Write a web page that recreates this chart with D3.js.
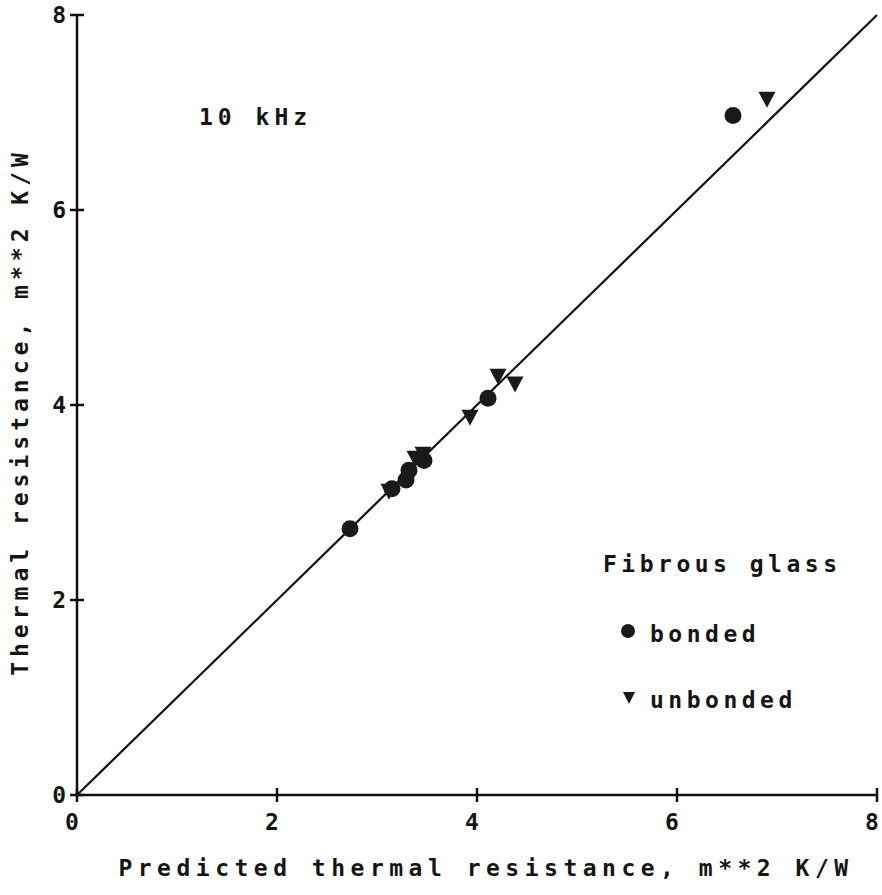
<!DOCTYPE html>
<html>
<head>
<meta charset="utf-8">
<script src="https://cdn.jsdelivr.net/npm/d3@7"></script>
<style>
  body { margin: 0; background: #fff; }
  text { font-family: "DejaVu Sans Mono", monospace; fill: #151515; font-weight: bold; }
</style>
</head>
<body>
<div id="chart"></div>
<script>
var width = 882, height = 895;
var margin = { top: 15, right: 5, bottom: 100, left: 77 };

// measured vs predicted, m**2 K/W
var bondedPred = [2.73, 3.15, 3.29, 3.32, 3.47, 4.11, 6.56];
var bondedMeas = [2.73, 3.14, 3.23, 3.33, 3.43, 4.07, 6.97];
var unbondedPred = [3.12, 3.38, 3.46, 3.93, 4.21, 4.38, 6.90];
var unbondedMeas = [3.12, 3.46, 3.50, 3.88, 4.30, 4.22, 7.14];
var tickValues = [0, 2, 4, 6, 8];

var svg = d3.select("#chart")
    .append("svg")
    .attr("width", width)
    .attr("height", height);

var g = svg.append("g")
    .attr("transform", "translate(" + margin.left + "," + margin.top + ")");

var plotW = 800, plotH = 780;

var xScale = d3.scaleLinear().domain([0, 8]).range([0, plotW]);
var yScale = d3.scaleLinear().domain([0, 8]).range([plotH, 0]);

// axes drawn by hand, plotter style: ticks cross the axis line
g.append("line")
    .attr("x1", 0).attr("x2", plotW)
    .attr("y1", yScale(0)).attr("y2", yScale(0))
    .attr("stroke", "#111").attr("stroke-width", 2.5);
g.append("line")
    .attr("x1", 0).attr("x2", 0)
    .attr("y1", yScale(0)).attr("y2", yScale(8))
    .attr("stroke", "#111").attr("stroke-width", 2.5);

g.selectAll(".xtick")
    .data(tickValues)
    .enter().append("line")
    .attr("class", "xtick")
    .attr("x1", function(d){ return xScale(d); })
    .attr("x2", function(d){ return xScale(d); })
    .attr("y1", plotH - 7).attr("y2", plotH + 7)
    .attr("stroke", "#111").attr("stroke-width", 2.5);

g.selectAll(".ytick")
    .data(tickValues)
    .enter().append("line")
    .attr("class", "ytick")
    .attr("x1", -7).attr("x2", 7)
    .attr("y1", function(d){ return yScale(d); })
    .attr("y2", function(d){ return yScale(d); })
    .attr("stroke", "#111").attr("stroke-width", 2.5);

g.selectAll(".xlab")
    .data(tickValues)
    .enter().append("text")
    .attr("class", "xlab")
    .attr("x", function(d){ return xScale(d) - 5; })
    .attr("y", plotH + 35)
    .attr("text-anchor", "middle")
    .style("font-size", "23px")
    .text(function(d){ return d; });

g.selectAll(".ylab")
    .data(tickValues)
    .enter().append("text")
    .attr("class", "ylab")
    .attr("x", -11)
    .attr("y", function(d){ return yScale(d) + 8; })
    .attr("text-anchor", "end")
    .style("font-size", "23px")
    .text(function(d){ return d; });

// 1:1 line
g.append("line")
    .attr("x1", xScale(0)).attr("y1", yScale(0))
    .attr("x2", xScale(8)).attr("y2", yScale(8))
    .attr("stroke", "#111").attr("stroke-width", 2.2);

// points
var bonded = bondedPred.map(function(d, i){ return [d, bondedMeas[i]]; });
var unbonded = unbondedPred.map(function(d, i){ return [d, unbondedMeas[i]]; });

var tri = "M-8.5,-7L8.5,-7L0,9Z";

g.selectAll(".bonded")
    .data(bonded)
    .enter().append("circle")
    .attr("class", "bonded")
    .attr("cx", function(d){ return xScale(d[0]); })
    .attr("cy", function(d){ return yScale(d[1]); })
    .attr("r", 8.5)
    .style("fill", "#1a1a1a");

g.selectAll(".unbonded")
    .data(unbonded)
    .enter().append("path")
    .attr("class", "unbonded")
    .attr("d", tri)
    .attr("transform", function(d){ return "translate(" + xScale(d[0]) + "," + yScale(d[1]) + ")"; })
    .style("fill", "#1a1a1a");

// annotation and legend
g.append("text")
    .attr("x", 122).attr("y", 110)
    .style("font-size", "23px").style("letter-spacing", "5px")
    .text("10 kHz");

g.append("text")
    .attr("x", 526).attr("y", 557)
    .style("font-size", "23px").style("letter-spacing", "4.5px")
    .text("Fibrous glass");

g.append("circle")
    .attr("cx", 551).attr("cy", 616).attr("r", 7)
    .style("fill", "#1a1a1a");
g.append("text")
    .attr("x", 573).attr("y", 627)
    .style("font-size", "23px").style("letter-spacing", "4.5px")
    .text("bonded");

g.append("path")
    .attr("d", "M-6,-6L6,-6L0,6Z")
    .attr("transform", "translate(552,683)")
    .style("fill", "#1a1a1a");
g.append("text")
    .attr("x", 573).attr("y", 693)
    .style("font-size", "23px").style("letter-spacing", "4.5px")
    .text("unbonded");

// axis titles
svg.append("text")
    .attr("x", 486).attr("y", 876)
    .attr("text-anchor", "middle")
    .style("font-size", "23px").style("letter-spacing", "5.5px")
    .text("Predicted thermal resistance, m**2 K/W");

svg.append("text")
    .attr("transform", "translate(28,412) rotate(-90)")
    .attr("text-anchor", "middle")
    .style("font-size", "23px").style("letter-spacing", "5px")
    .text("Thermal resistance, m**2 K/W");
</script>
</body>
</html>
